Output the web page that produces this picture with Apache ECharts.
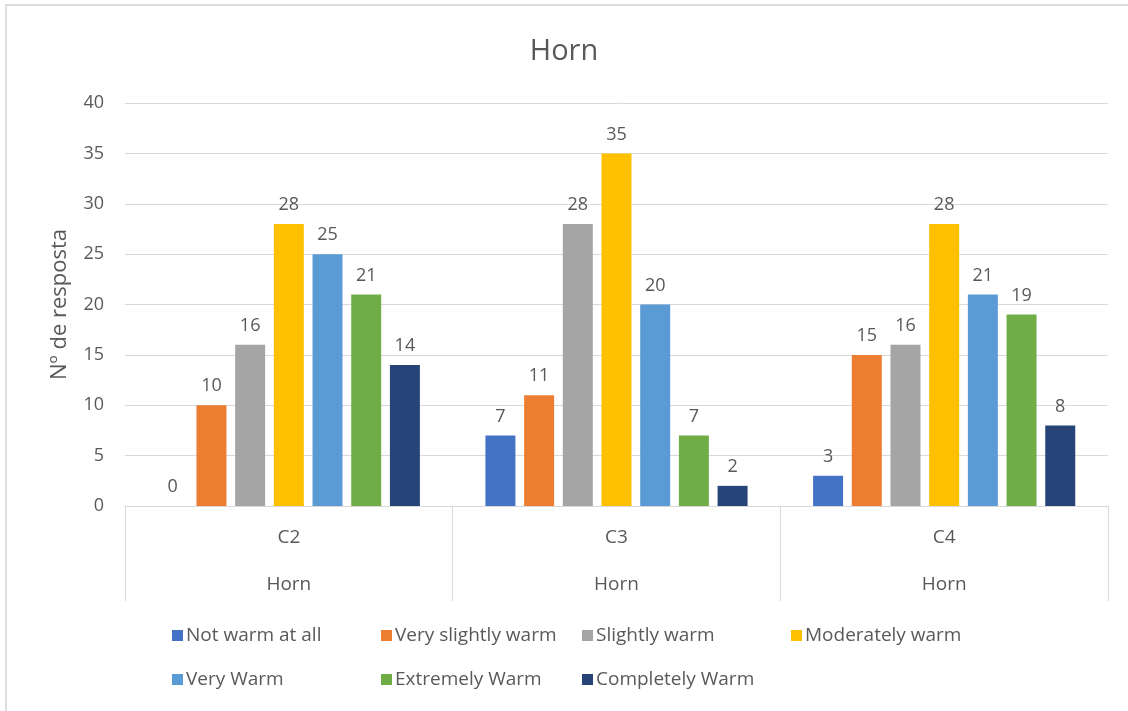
<!DOCTYPE html>
<html>
<head>
<meta charset="utf-8">
<title>Horn</title>
<script src="https://cdn.jsdelivr.net/npm/echarts@6/dist/echarts.min.js"></script>
<style>
  html, body { margin: 0; padding: 0; background: #fff; }
  #chart { position: absolute; left: 0; top: 0; width: 1128px; height: 711px; }
  #frame { position: absolute; left: 5px; top: 4px; width: 1130px; height: 720px;
           border-top: 2px solid #dedede; border-left: 2px solid #dedede; pointer-events: none; }
</style>
</head>
<body>
<div id="chart"></div>
<div id="frame"></div>
<script>
// categories (two-level axis)
var categories = ['C2', 'C3', 'C4'];
var groupLabels = ['Horn', 'Horn', 'Horn'];

// series
var seriesNames = ['Not warm at all', 'Very slightly warm', 'Slightly warm', 'Moderately warm',
	'Very Warm', 'Extremely Warm', 'Completely Warm'];
var notWarm = [0, 7, 3];
var verySlightly = [10, 11, 15];
var slightly = [16, 28, 16];
var moderately = [28, 35, 28];
var veryWarm = [25, 20, 21];
var extremely = [21, 7, 19];
var completely = [14, 2, 8];
var seriesValues = [notWarm, verySlightly, slightly, moderately, veryWarm, extremely, completely];

var colors = ['#4472C4', '#ED7D31', '#A5A5A5', '#FFC000', '#5B9BD5', '#70AD47', '#264478'];
var textColor = '#595959';
var font = 'Open Sans';

var series = seriesNames.map(function (name, i) {
	return {
		name: name,
		type: 'bar',
		data: seriesValues[i],
		barGap: '29%',
		barCategoryGap: '20%',
		itemStyle: { color: colors[i] },
		label: {
			show: true,
			position: 'top',
			distance: 10,
			color: textColor,
			fontSize: 18,
			fontFamily: font
		}
	};
});

// legend laid out as a grid, like Excel does
var colX = [167, 376, 577, 786];
var legends = seriesNames.map(function (name, i) {
	return {
		data: [name],
		left: colX[i % 4],
		top: 621 + Math.floor(i / 4) * 44,
		itemWidth: 11,
		itemHeight: 11,
		itemGap: 0,
		icon: 'rect',
		textStyle: { color: textColor, fontSize: 19, fontFamily: font, padding: [0, 0, 0, -2] }
	};
});

var chart = echarts.init(document.getElementById('chart'));

var option = {
	animation: false,
	title: {
		text: 'Horn',
		left: 'center',
		top: 32,
		textStyle: { color: textColor, fontSize: 29, fontWeight: 'normal', fontFamily: font }
	},
	legend: legends,
	grid: { left: 125, right: 20, top: 103, bottom: 205 },
	xAxis: {
		type: 'category',
		data: categories,
		axisLine: { lineStyle: { color: '#d9d9d9' } },
		axisTick: { show: true, length: 95, lineStyle: { color: '#d9d9d9' } },
		axisLabel: {
			color: textColor,
			fontSize: 19,
			fontFamily: font,
			margin: 8,
			lineHeight: 47,
			formatter: function (value, idx) {
				return value + '\n' + groupLabels[idx];
			}
		}
	},
	yAxis: {
		type: 'value',
		min: 0,
		max: 40,
		interval: 5,
		name: 'Nº de resposta',
		nameLocation: 'middle',
		nameGap: 54,
		nameTextStyle: { color: textColor, fontSize: 22, fontFamily: font },
		axisLine: { show: false },
		axisTick: { show: false },
		axisLabel: { color: textColor, fontSize: 18, fontFamily: font, margin: 21 },
		splitLine: { lineStyle: { color: '#d9d9d9' } }
	},
	series: series
};

chart.setOption(option);
</script>
</body>
</html>
